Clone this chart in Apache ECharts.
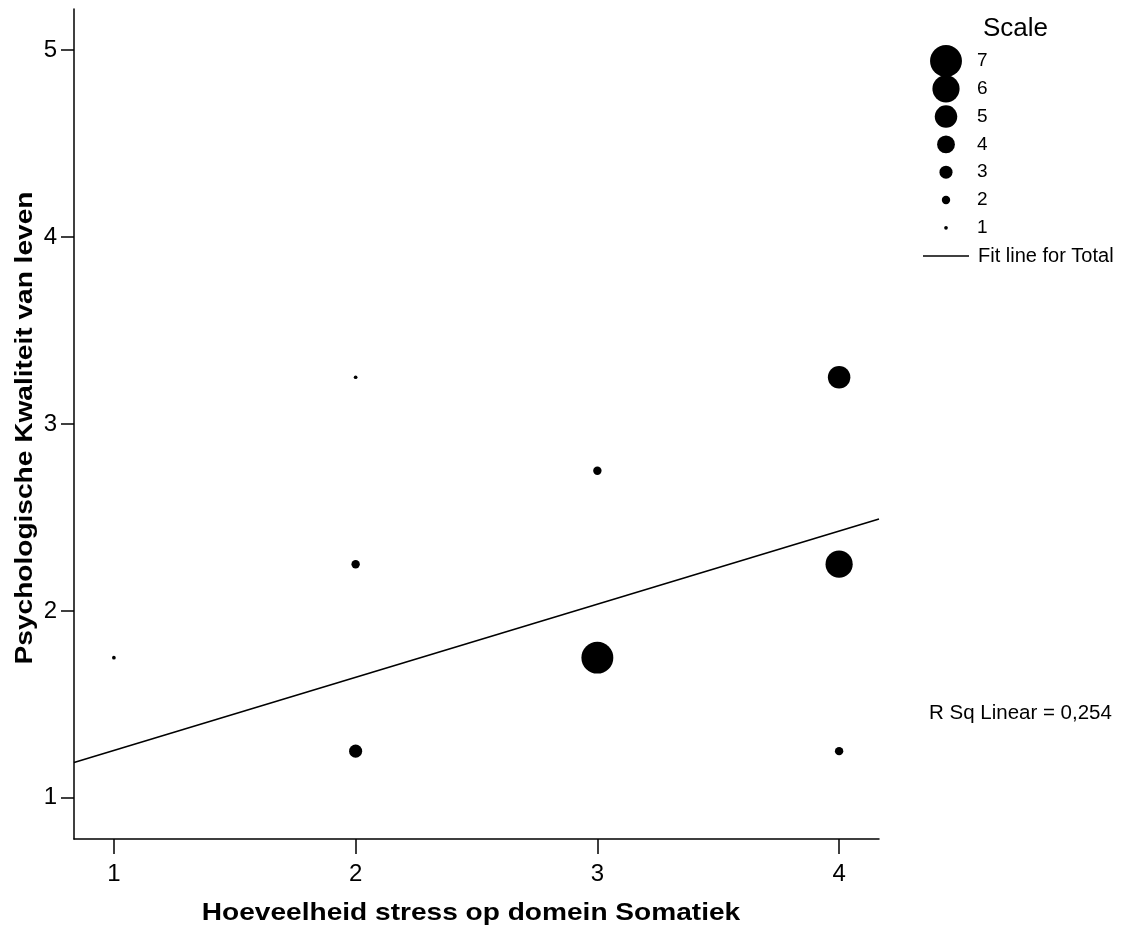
<!DOCTYPE html>
<html>
<head>
<meta charset="utf-8">
<script src="https://cdn.jsdelivr.net/npm/echarts@6/dist/echarts.min.js"></script>
<style>
  html, body { margin: 0; padding: 0; background: #fff; }
  #chart { width: 1122px; height: 930px; }
</style>
</head>
<body>
<div id="chart"></div>
<script>
// data
var stressX = [1, 2, 2, 2, 3, 3, 4, 4, 4]
var kwaliteitY = [1.75, 3.25, 2.25, 1.25, 2.75, 1.75, 3.25, 2.25, 1.25]
var scaleValues = [1, 1, 2, 3, 2, 7, 5, 6, 2]
var xTicks = [1, 2, 3, 4]
var yTicks = [1, 2, 3, 4, 5]
var legendScale = [7, 6, 5, 4, 3, 2, 1]
var fitIntercept = 0.863
var fitSlope = 0.391
var rSquare = '0,254'
var xTitle = 'Hoeveelheid stress op domein Somatiek'
var yTitle = 'Psychologische Kwaliteit van leven'

var X_MIN = 0.835, X_MAX = 4.165
var Y_MIN = 0.78, Y_MAX = 5.22
var FONT = '"Liberation Sans", Arial, Helvetica, sans-serif'

function bubbleSize (v) {
  return 4.7 * v - 1
}

var chart = echarts.init(document.getElementById('chart'))

var points = stressX.map(function (x, i) {
  return [x, kwaliteitY[i], scaleValues[i]]
})
var fitData = [
  [X_MIN, fitIntercept + fitSlope * X_MIN],
  [X_MAX, fitIntercept + fitSlope * X_MAX]
]

// titles are a bit wider in the original (spss bold), so stretch them
var graphics = [{
  type: 'text',
  x: 471, y: 913,
  scaleX: 1.17,
  style: { text: xTitle, font: 'bold 24px ' + FONT, fill: '#000', align: 'center', verticalAlign: 'middle' }
}, {
  type: 'text',
  x: 25, y: 428,
  rotation: Math.PI / 2,
  scaleX: 1.17,
  style: { text: yTitle, font: 'bold 24px ' + FONT, fill: '#000', align: 'center', verticalAlign: 'middle' }
}]

// legend (Scale + fit line)
graphics.push({
  type: 'text',
  x: 983, y: 29,
  style: { text: 'Scale', font: '26px ' + FONT, fill: '#000', verticalAlign: 'middle' }
})
legendScale.forEach(function (v, i) {
  var cy = 61 + i * 27.8
  graphics.push({
    type: 'circle',
    shape: { cx: 946, cy: cy, r: bubbleSize(v) / 2 },
    style: { fill: '#000' }
  })
  graphics.push({
    type: 'text',
    x: 977, y: cy,
    style: { text: String(v), font: '19px ' + FONT, fill: '#000', verticalAlign: 'middle' }
  })
})
graphics.push({
  type: 'line',
  shape: { x1: 923, y1: 256, x2: 969, y2: 256 },
  style: { stroke: '#000', lineWidth: 1.5 }
})
graphics.push({
  type: 'text',
  x: 978, y: 256,
  style: { text: 'Fit line for Total', font: '20px ' + FONT, fill: '#000', verticalAlign: 'middle' }
})
graphics.push({
  type: 'text',
  x: 929, y: 713,
  style: { text: 'R Sq Linear = ' + rSquare, font: '20.5px ' + FONT, fill: '#000', verticalAlign: 'middle' }
})

var option = {
  backgroundColor: '#fff',
  animation: false,
  grid: { left: 74, top: 9, right: 243, bottom: 91 },
  xAxis: {
    type: 'value',
    min: X_MIN,
    max: X_MAX,
    axisLine: { show: true, lineStyle: { color: '#000', width: 1.5 } },
    axisTick: { show: true, length: 15, lineStyle: { color: '#000', width: 1.5 }, customValues: xTicks },
    axisLabel: { fontFamily: FONT, fontSize: 24, color: '#000', margin: 23, customValues: xTicks },
    splitLine: { show: false }
  },
  yAxis: {
    type: 'value',
    min: Y_MIN,
    max: Y_MAX,
    axisLine: { show: true, lineStyle: { color: '#000', width: 1.5 } },
    axisTick: { show: true, length: 13, lineStyle: { color: '#000', width: 1.5 }, customValues: yTicks },
    axisLabel: { fontFamily: FONT, fontSize: 24, color: '#000', margin: 17, customValues: yTicks },
    splitLine: { show: false }
  },
  series: [{
    type: 'scatter',
    data: points,
    symbol: 'circle',
    symbolSize: function (val) { return bubbleSize(val[2]) },
    itemStyle: { color: '#000', opacity: 1 },
    z: 3
  }, {
    type: 'line',
    data: fitData,
    symbol: 'none',
    lineStyle: { color: '#000', width: 1.6 },
    z: 2
  }],
  graphic: graphics
}

chart.setOption(option)
</script>
</body>
</html>
